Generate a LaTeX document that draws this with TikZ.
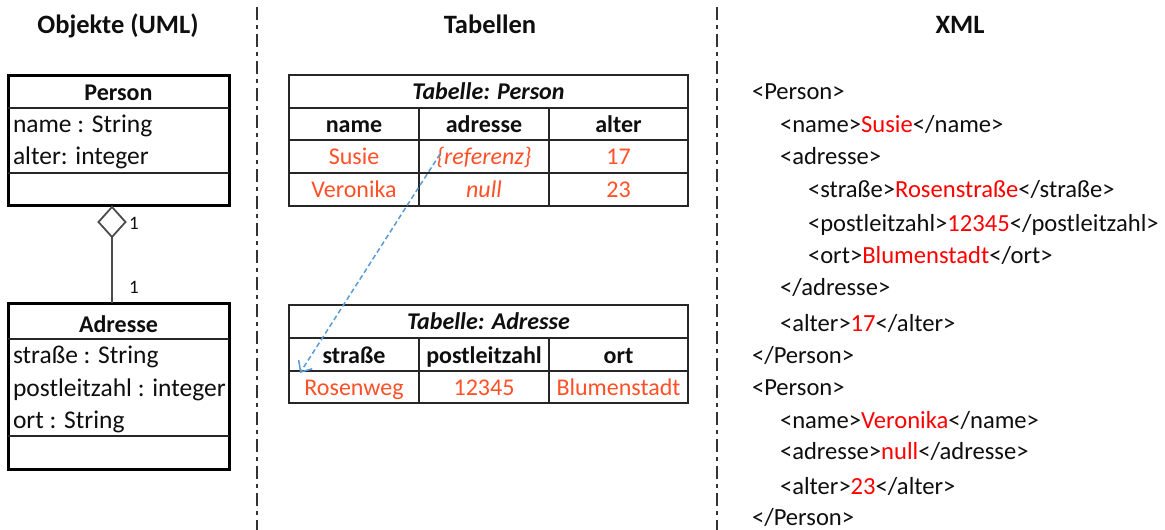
\documentclass[tikz,border=0pt]{standalone}
\usepackage{fontspec}
\setmainfont{Carlito}
\usetikzlibrary{arrows.meta,shapes.geometric}
\definecolor{valred}{RGB}{255,80,40}
\definecolor{xmlred}{RGB}{255,0,0}
\definecolor{linkblue}{RGB}{91,155,213}
\definecolor{ink}{RGB}{15,15,15}

\tikzset{
  txt/.style={inner sep=0pt, outer sep=0pt, anchor=base, text=ink, font=\fontsize{24}{28}\selectfont},
  title/.style={txt, font=\fontsize{26.5}{30}\selectfont\bfseries},
  head/.style={txt, font=\fontsize{24}{28}\selectfont\bfseries},
  caption/.style={txt, font=\fontsize{24}{28}\selectfont\bfseries\itshape},
  val/.style={txt, text=valred},
  attr/.style={txt, anchor=base west, font=\fontsize{25.5}{30}\selectfont},
  xmlline/.style={txt, anchor=base west, font=\fontsize{24.6}{28}\selectfont},
  mult/.style={txt, font=\fontsize{19}{23}\selectfont},
  classbox/.style={draw=black, line width=3pt, inner sep=0pt, outer sep=0pt, minimum width=221pt},
  divider/.style={draw=black!85, line width=1.5pt},
  grid/.style={draw=black!85, line width=2pt},
  agg/.style={diamond, draw=black!70, line width=1.8pt, inner sep=0pt, outer sep=0pt, minimum width=27pt, minimum height=30pt},
  assoc/.style={draw=black!70, line width=2pt},
  sep/.style={draw=black!80, line width=2pt, dash pattern=on 13pt off 5pt on 4pt off 5pt},
  link/.style={draw=linkblue, line width=1.5pt, dash pattern=on 5pt off 3pt, -{Straight Barb[length=9pt,width=16pt]}},
}

\begin{document}
\begin{tikzpicture}[x=1pt,y=-1pt]
\useasboundingbox[fill=white] (0,0) rectangle (1165,530);

% column titles
\node[title] (tuml) at (118,34) {Objekte (UML)};
\node[title] (ttab) at (490,34) {Tabellen};
\node[title] (txml) at (960,34) {XML};

% column separators
\draw[sep] (257,7) -- (257,530);
\draw[sep] (716.5,7) -- (716.5,530);

% ---- UML classes ----
\node[classbox, minimum height=130pt] (person) at (118.5,140) {};
\draw[divider] (8,108) -- (229,108);
\draw[divider] (8,173) -- (229,173);
\node[head] (pname) at (118.5,100) {Person};
\node[attr] (pa1) at (13,132) {name : String};
\node[attr] (pa2) at (13,164) {alter: integer};

\node[classbox, minimum height=166pt] (adresse) at (118.5,386) {};
\draw[divider] (8,339) -- (229,339);
\draw[divider] (8,436) -- (229,436);
\node[head] (aname) at (118.5,332) {Adresse};
\node[attr] (aa1) at (13,363) {straße : String};
\node[attr] (aa2) at (13,396) {postleitzahl : integer};
\node[attr] (aa3) at (13,428) {ort : String};

% aggregation
\node[agg, anchor=north] (dia) at ([xshift=-6.5pt,yshift=-2pt]person.south) {};
\draw[assoc] (dia.south) -- (dia.south |- adresse.north);
\node[mult] (m1) at (134,229) {1};
\node[mult] (m2) at (134,293) {1};

% ---- table Person ----
\draw[grid] (289,75) rectangle (688,206);
\draw[grid] (289,108) -- (688,108);
\draw[grid] (289,140) -- (688,140);
\draw[grid] (289,173) -- (688,173);
\draw[grid] (419,108) -- (419,206);
\draw[grid] (549,108) -- (549,206);
\node[caption] (tpcap) at (488.5,99) {Tabelle: Person};
\node[head] (tph1) at (354,132) {name};
\node[head] (tph2) at (484,132) {adresse};
\node[head] (tph3) at (618.5,132) {alter};
\node[val] (tpv11) at (354,164) {Susie};
\node[val, font=\fontsize{24}{28}\selectfont\itshape] (tpv12) at (484,164) {\{referenz\}};
\node[val] (tpv13) at (618.5,164) {17};
\node[val] (tpv21) at (354,197) {Veronika};
\node[val, font=\fontsize{24}{28}\selectfont\itshape] (tpv22) at (484,197) {null};
\node[val] (tpv23) at (618.5,197) {23};

% ---- table Adresse ----
\draw[grid] (289,305) rectangle (688,403);
\draw[grid] (289,338) -- (688,338);
\draw[grid] (289,371) -- (688,371);
\draw[grid] (419,338) -- (419,403);
\draw[grid] (549,338) -- (549,403);
\node[caption] (tacap) at (488.5,329) {Tabelle: Adresse};
\node[head] (tah1) at (354,363) {straße};
\node[head] (tah2) at (484,363) {postleitzahl};
\node[head] (tah3) at (618.5,363) {ort};
\node[val] (tav1) at (354,395) {Rosenweg};
\node[val] (tav2) at (484,395) {12345};
\node[val] (tav3) at (618.5,395) {Blumenstadt};

% reference from the Person row to the Adresse row
\coordinate (refstart) at (440,154);
\coordinate (reftip) at (300,373);
\draw[link] (refstart) -- (reftip);

% ---- XML ----
\node[xmlline] (x1)  at (752,99)  {<Person>};
\node[xmlline] (x2)  at (780,132) {<name>\textcolor{xmlred}{Susie}</name>};
\node[xmlline] (x3)  at (780,164) {<adresse>};
\node[xmlline] (x4)  at (808,197) {<straße>\textcolor{xmlred}{Rosenstraße}</straße>};
\node[xmlline] (x5)  at (808,231) {<postleitzahl>\textcolor{xmlred}{12345}</postleitzahl>};
\node[xmlline] (x6)  at (808,263) {<ort>\textcolor{xmlred}{Blumenstadt}</ort>};
\node[xmlline] (x7)  at (780,295) {</adresse>};
\node[xmlline] (x8)  at (780,331) {<alter>\textcolor{xmlred}{17}</alter>};
\node[xmlline] (x9)  at (752,363) {</Person>};
\node[xmlline] (x10) at (752,395) {<Person>};
\node[xmlline] (x11) at (780,428) {<name>\textcolor{xmlred}{Veronika}</name>};
\node[xmlline] (x12) at (780,459) {<adresse>\textcolor{xmlred}{null}</adresse>};
\node[xmlline] (x13) at (780,494) {<alter>\textcolor{xmlred}{23}</alter>};
\node[xmlline] (x14) at (752,525) {</Person>};
\end{tikzpicture}
\end{document}
